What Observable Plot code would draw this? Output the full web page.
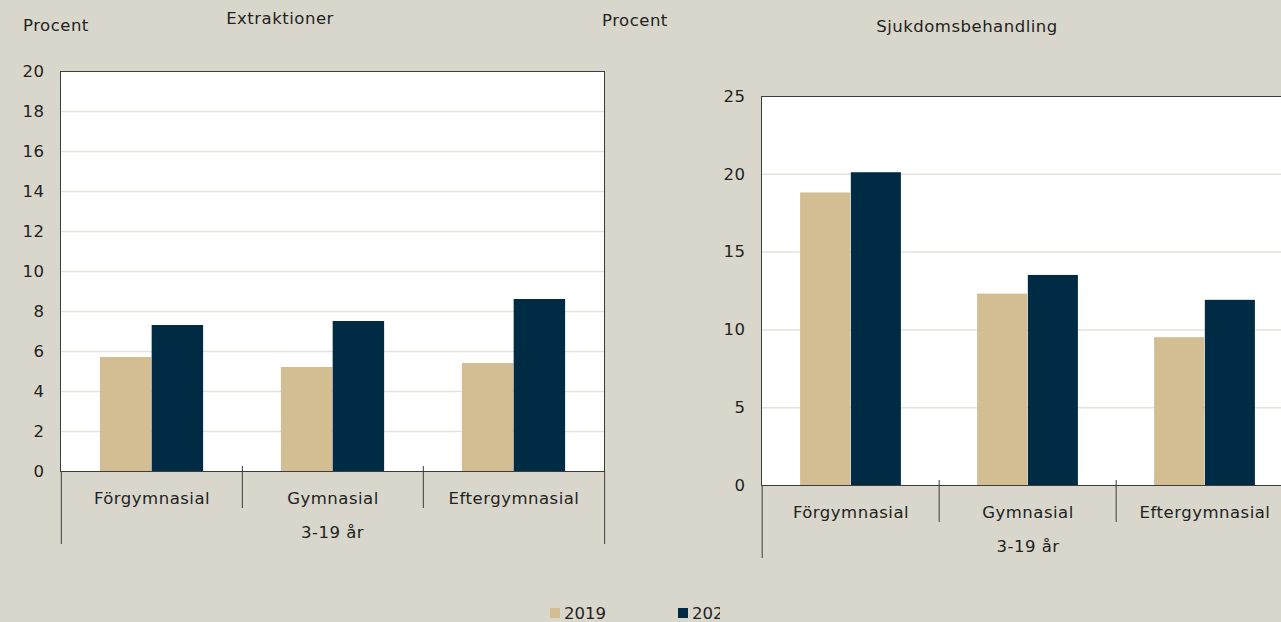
<!DOCTYPE html>
<html>
<head>
<meta charset="utf-8">
<script src="https://cdn.jsdelivr.net/npm/d3@7"></script>
<script src="https://cdn.jsdelivr.net/npm/@observablehq/plot@0.6"></script>
<style>
  html, body { margin: 0; padding: 0; }
  #page { position: relative; width: 1281px; height: 622px; overflow: hidden; background: #d9d7cb; font-family: "DejaVu Sans", sans-serif; font-size: 16.5px; letter-spacing: 0.5px; color: #222; }
  #page svg { max-width: none !important; }
  .lbl { position: absolute; line-height: 16px; white-space: nowrap; }
  .panel { position: absolute; top: 0; }
  .sw { position: absolute; width: 10px; height: 10px; }
</style>
</head>
<body>
<div id="page">
  <div class="lbl" style="left:23px; top:17.5px">Procent</div>
  <div class="lbl" id="t1" style="left:280px; top:10.5px; transform:translateX(-50%)"></div>
  <div class="lbl" style="left:602px; top:12.5px">Procent</div>
  <div class="lbl" id="t2" style="left:967px; top:18.5px; transform:translateX(-50%)"></div>
  <div id="p1" class="panel" style="left:0px"></div>
  <div id="p2" class="panel" style="left:701px"></div>
  <div class="sw" style="left:550px; top:608px; background:#d3be94"></div>
  <div class="lbl" id="l1" style="left:564px; top:605.5px; letter-spacing:0"></div>
  <div class="sw" style="left:678px; top:608px; background:#002b45"></div>
  <div class="lbl" id="l2" style="left:692px; top:605.5px; width:28px; overflow:hidden; letter-spacing:0"></div>
</div>
<script>
const categories = ["Förgymnasial", "Gymnasial", "Eftergymnasial"];
const years = ["2019", "2022"];
const groupLabel = "3-19 år";
const titles = ["Extraktioner", "Sjukdomsbehandling"];

const extraktioner2019 = [5.7, 5.2, 5.4];
const extraktioner2022 = [7.3, 7.5, 8.6];
const sjukdom2019 = [18.8, 12.3, 9.5];
const sjukdom2022 = [20.1, 13.5, 11.9];

const extraktionerTicks = [0, 2, 4, 6, 8, 10, 12, 14, 16, 18, 20];
const sjukdomTicks = [0, 5, 10, 15, 20, 25];

const colors = {"2019": "#d3be94", "2022": "#002b45"};
const lineColor = "#3c3c3c";

document.getElementById("t1").textContent = titles[0];
document.getElementById("t2").textContent = titles[1];
document.getElementById("l1").textContent = years[0];
document.getElementById("l2").textContent = years[1];

function table(vals) { return categories.map((c, i) => ({cat: c, v: vals[i]})); }

function panel({marginLeft, marginTop, plotW, plotH, ticks, a, b}) {
  const marginRight = 10, marginBottom = 80;
  const bw = plotW / categories.length;
  const w = 0.2855 * bw;
  const yMax = ticks[ticks.length - 1];
  return Plot.plot({
    width: marginLeft + plotW + marginRight,
    height: marginTop + plotH + marginBottom,
    marginLeft, marginTop, marginRight, marginBottom,
    style: {background: "transparent", fontFamily: "DejaVu Sans, sans-serif", fontSize: "16.5px", letterSpacing: "0.5px", color: "#222", overflow: "visible", maxWidth: "none"},
    x: {domain: categories, padding: 0, label: null, tickSize: 0, tickPadding: 21},
    y: {domain: [0, yMax], ticks, tickSize: 0, tickPadding: 16, label: null},
    marks: [
      Plot.frame({fill: "white", stroke: null}),
      Plot.ruleY(ticks.filter(t => t > 0 && t < yMax), {stroke: "#e4e2da", strokeWidth: 1.5}),
      Plot.barY(table(a), {x: "cat", y: "v", fill: colors[years[0]], insetLeft: bw / 2 - w, insetRight: bw / 2}),
      Plot.barY(table(b), {x: "cat", y: "v", fill: colors[years[1]], insetLeft: bw / 2, insetRight: bw / 2 - w}),
      Plot.frame({stroke: lineColor}),
      Plot.ruleX(categories.slice(1), {dx: -bw / 2, stroke: lineColor, insetTop: plotH - 5, insetBottom: -37}),
      Plot.ruleX(categories.slice(0, 1), {dx: -bw / 2, stroke: lineColor, insetTop: plotH, insetBottom: -73}),
      Plot.ruleX(categories.slice(-1), {dx: bw / 2, stroke: lineColor, insetTop: plotH, insetBottom: -73}),
      Plot.text([groupLabel], {frameAnchor: "bottom", lineAnchor: "middle", dy: 61, fontSize: 16.5, fill: "#222"})
    ]
  });
}

document.getElementById("p1").appendChild(panel({marginLeft: 60, marginTop: 71, plotW: 544, plotH: 400, ticks: extraktionerTicks, a: extraktioner2019, b: extraktioner2022}));
document.getElementById("p2").appendChild(panel({marginLeft: 60, marginTop: 96, plotW: 533, plotH: 389, ticks: sjukdomTicks, a: sjukdom2019, b: sjukdom2022}));
</script>
</body>
</html>
